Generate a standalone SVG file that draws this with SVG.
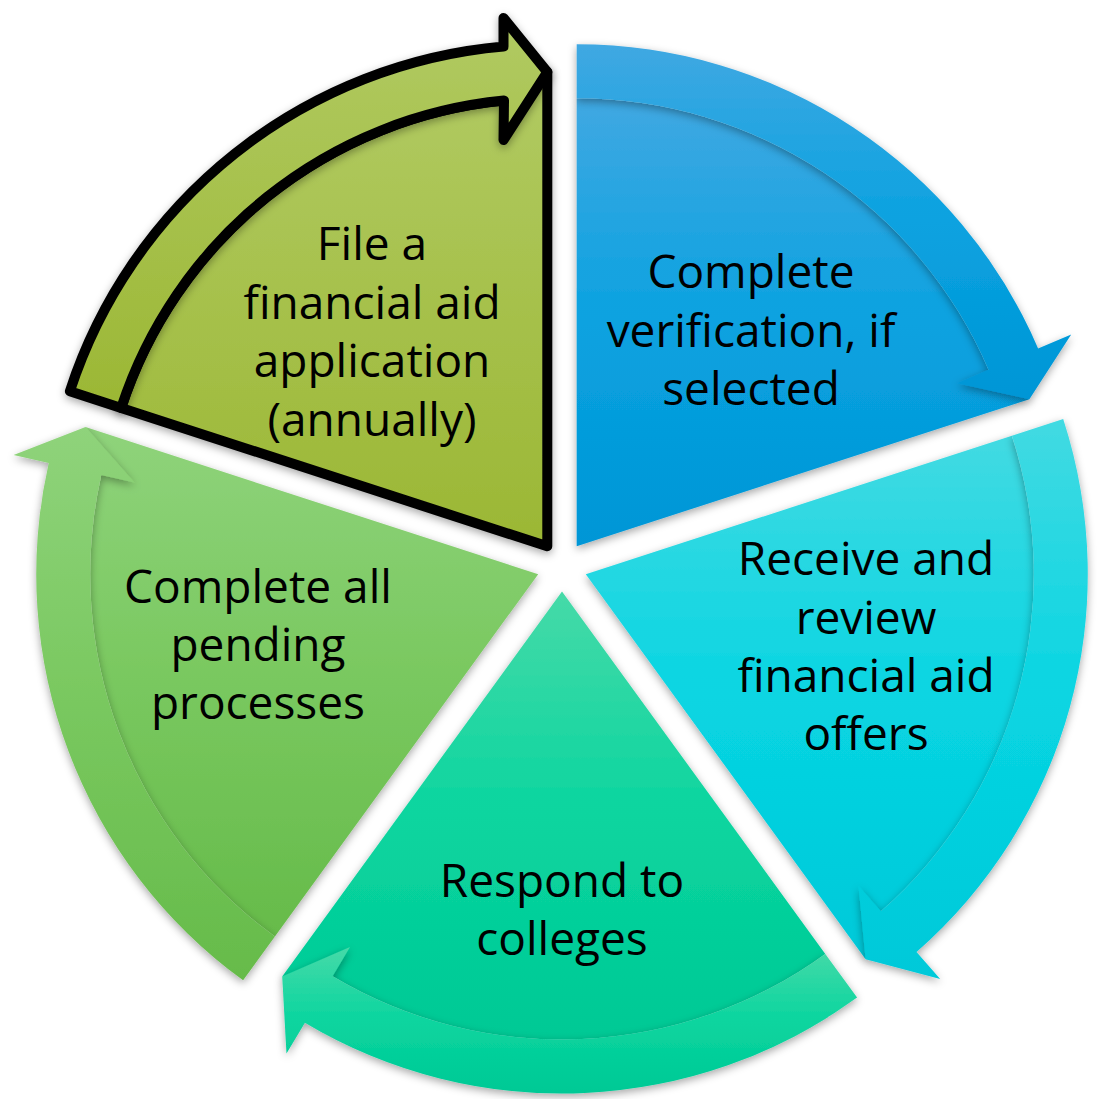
<svg xmlns="http://www.w3.org/2000/svg" width="1099" height="1099" viewBox="0 0 1099 1099">
  <defs>
    <filter id="sh" x="-10%" y="-10%" width="120%" height="120%">
      <feDropShadow dx="0" dy="3" stdDeviation="4" flood-color="#000" flood-opacity="0.35"/>
    </filter>
    <linearGradient id="gSel" x1="0" y1="0" x2="0" y2="1">
      <stop offset="0" stop-color="#b1ca62"/>
      <stop offset="1" stop-color="#9bb734"/>
    </linearGradient>
    <linearGradient id="gBlue" x1="0" y1="0" x2="0" y2="1">
      <stop offset="0" stop-color="#40a8e2"/>
      <stop offset="0.5" stop-color="#0aa2e0"/>
      <stop offset="1" stop-color="#0096d6"/>
    </linearGradient>
    <linearGradient id="gCyan" x1="0" y1="0" x2="0" y2="1">
      <stop offset="0" stop-color="#42dae2"/>
      <stop offset="0.5" stop-color="#08d5e2"/>
      <stop offset="1" stop-color="#00c9d9"/>
    </linearGradient>
    <linearGradient id="gTeal" x1="0" y1="0" x2="0" y2="1">
      <stop offset="0" stop-color="#46daa8"/>
      <stop offset="0.5" stop-color="#0ad59f"/>
      <stop offset="1" stop-color="#00c995"/>
    </linearGradient>
    <linearGradient id="gLeft" x1="0" y1="0" x2="0" y2="1">
      <stop offset="0" stop-color="#8fd37b"/>
      <stop offset="0.5" stop-color="#79c85f"/>
      <stop offset="1" stop-color="#66bb4a"/>
    </linearGradient>
  </defs>
  <style>
    .lbl { font-family: "Open Sans", "Liberation Sans", sans-serif; font-size: 46px; fill: #000; text-anchor: middle; }
    .shape { filter: url(#sh); }
    .sel { stroke: #000; stroke-width: 10; stroke-linejoin: round; }
  </style>

  <g id="node-verification">
    <path class="shape" fill="url(#gBlue)" d="M576.7,546.3 L576.7,98.3 A448,448 0 0 1 988.5,369.8 L1029.4,399.2 Z"/>
    <path class="shape" fill="url(#gBlue)" d="M576.7,44.3 A502,502 0 0 1 1038.1,348.5 L1071.2,334.4 L1029.4,399.2 L957.2,383.2 L988.5,369.8 A448,448 0 0 0 576.7,98.3 Z"/>
    <text class="lbl"><tspan x="751" y="287.5">Complete</tspan><tspan x="751" y="346.5">verification, if</tspan><tspan x="751" y="405">selected</tspan></text>
  </g>

  <g id="node-review">
    <path class="shape" fill="url(#gCyan)" d="M585.8,574.2 L1011.9,435.8 A448,448 0 0 1 880.9,911.3 L865.6,959.3 Z"/>
    <path class="shape" fill="url(#gCyan)" d="M1063.2,419.1 A502,502 0 0 1 916.5,951.9 L940.2,979 L865.6,959.3 L858.5,885.7 L880.9,911.3 A448,448 0 0 0 1011.9,435.8 Z"/>
    <text class="lbl"><tspan x="866" y="575">Receive and</tspan><tspan x="866" y="634">review</tspan><tspan x="866" y="692">financial aid</tspan><tspan x="866" y="750">offers</tspan></text>
  </g>

  <g id="node-respond">
    <path class="shape" fill="url(#gTeal)" d="M562,591.5 L825.3,953.9 A448,448 0 0 1 332.6,976.3 L282.2,976.6 Z"/>
    <path class="shape" fill="url(#gTeal)" d="M857.1,997.6 A502,502 0 0 1 304.9,1022.7 L286.5,1053.6 L282.2,976.6 L350,947.1 L332.6,976.3 A448,448 0 0 0 825.3,953.9 Z"/>
    <text class="lbl"><tspan x="562" y="897">Respond to</tspan><tspan x="562" y="955">colleges</tspan></text>
  </g>

  <g id="node-pending">
    <path class="shape" fill="url(#gLeft)" d="M538.2,574.2 L274.9,936.6 A448,448 0 0 1 101.3,475 L85.5,427.1 Z"/>
    <path class="shape" fill="url(#gLeft)" d="M243.1,980.3 A502,502 0 0 1 48.7,463 L13.6,455 L85.5,427.1 L134.5,482.5 L101.3,475 A448,448 0 0 0 274.9,936.6 Z"/>
    <text class="lbl"><tspan x="258" y="603">Complete all</tspan><tspan x="258" y="661">pending</tspan><tspan x="258" y="719">processes</tspan></text>
  </g>

  <g id="node-file">
    <path class="shape sel" fill="url(#gSel)" d="M547.3,546.3 L121.2,407.9 A448,448 0 0 1 504,100.6 L547.3,72 Z"/>
    <path class="shape sel" fill="url(#gSel)" d="M69.9,391.2 A502,502 0 0 1 503.5,46.6 L503.5,18 L547.3,72 L503.5,140 L504,100.6 A448,448 0 0 0 121.2,407.9 Z"/>
    <text class="lbl"><tspan x="372" y="260">File a</tspan><tspan x="372" y="318.5">financial aid</tspan><tspan x="372" y="377">application</tspan><tspan x="372" y="435.5">(annually)</tspan></text>
  </g>
</svg>
